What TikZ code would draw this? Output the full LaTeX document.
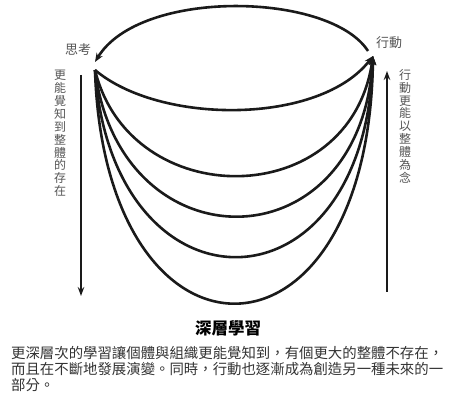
\documentclass[tikz,border=0pt]{standalone}
\usepackage{fontspec}
\newfontfamily\cjk{Noto Sans CJK TC}
\usetikzlibrary{arrows.meta}
\definecolor{lbl}{HTML}{555555}
\definecolor{txt}{HTML}{333333}
\definecolor{ln}{HTML}{1A1A1A}
\tikzset{
  curve/.style={line width=2.6pt, draw=ln, -{Stealth[length=9pt,width=7pt]}},
  side/.style={line width=2.4pt, draw=ln, -{Stealth[length=9pt,width=6.5pt]}},
  lab/.style={font=\cjk\fontsize{13}{13}\selectfont, text=lbl, inner sep=0pt},
  vlab/.style={font=\cjk\fontsize{12}{12.9}\selectfont, text=lbl, inner sep=0pt, align=center},
  para/.style={font=\cjk\fontsize{14.4}{15}\selectfont, text=txt, inner sep=0pt, anchor=west},
}
\begin{document}
\begin{tikzpicture}[x=1pt,y=-1pt]
\useasboundingbox (0,0) rectangle (455,403);
\coordinate (thinkIn) at (95,62);
\coordinate (thinkOut) at (95,70);
\coordinate (actIn) at (373,56);
\coordinate (actOut) at (368,51);
% top arc: action -> thinking
\draw[curve] (actOut) .. controls (330,-8) and (140,-12) .. (thinkIn);
% bottom curves: thinking -> action
\draw[curve] (thinkOut) .. controls (160,125) and (320,125) .. (actIn);
\draw[curve] (thinkOut) .. controls (130,213) and (350,213) .. (actIn);
\draw[curve] (thinkOut) .. controls (120,267) and (360,267) .. (actIn);
\draw[curve] (thinkOut) .. controls (112,321) and (365,321) .. (actIn);
\draw[curve] (thinkOut) .. controls (105,383) and (368,383) .. (actIn);
% labels
\node[lab] (think) at (78,50) {思考};
\node[lab] (act) at (389,43) {行動};
% side arrows
\coordinate (lTop) at (81,75);
\coordinate (lBot) at (81,296);
\coordinate (rBot) at (387,292);
\coordinate (rTop) at (387,71);
\draw[side] (lTop) -- (lBot);
\draw[side] (rBot) -- (rTop);
\node[vlab, anchor=north] (ltext) at (60,70) {更\\能\\覺\\知\\到\\整\\體\\的\\存\\在};
\node[vlab, anchor=north] (rtext) at (405,69) {行\\動\\更\\能\\以\\整\\體\\為\\念};
% title and caption
\node[font=\cjk\bfseries\fontsize{16.5}{17}\selectfont, inner sep=0pt] (title) at (228,328) {深層學習};
\node[para] (p1) at (11,353) {更深層次的學習讓個體與組織更能覺知到，有個更大的整體不存在，};
\node[para] (p2) at (11,369) {而且在不斷地發展演變。同時，行動也逐漸成為創造另一種未來的一};
\node[para] (p3) at (11,385) {部分。};
\end{tikzpicture}
\end{document}
